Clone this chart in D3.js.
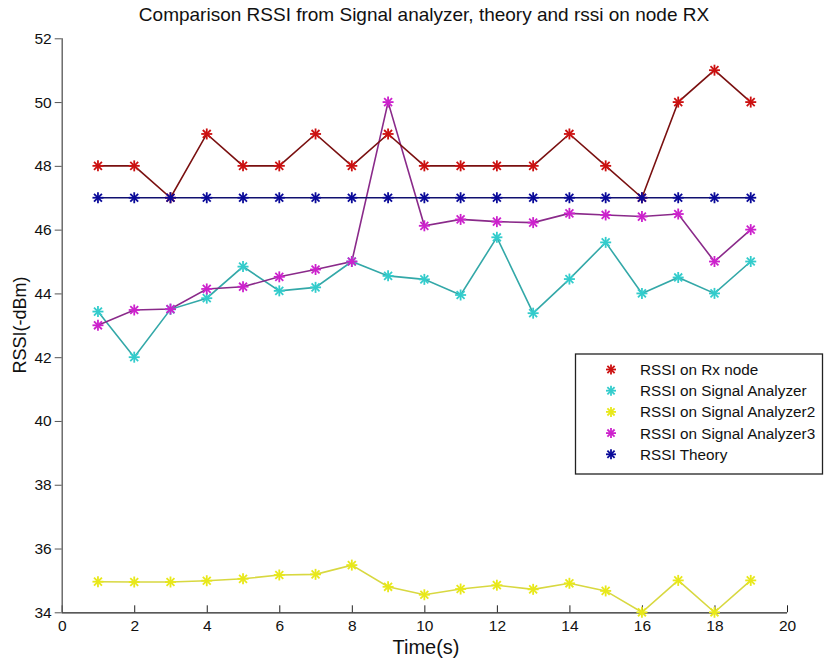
<!DOCTYPE html>
<html><head><meta charset="utf-8">
<script src="https://cdn.jsdelivr.net/npm/d3@7"></script>
<style>body{margin:0;background:#fff;} text{font-family:Arial,"Liberation Sans",sans-serif;}</style>
</head><body>
<svg id="c" width="825" height="659"></svg>
<script>
const times = [1,2,3,4,5,6,7,8,9,10,11,12,13,14,15,16,17,18,19];
const rxNode = [48,48,47,49,48,48,49,48,49,48,48,48,48,49,48,47,50,51,50];
const sigAnalyzer = [43.43,42.0,43.5,43.85,44.84,44.08,44.19,45.0,44.55,44.44,43.95,45.76,43.38,44.45,45.6,44.0,44.5,44.0,45.0];
const sigAnalyzer2 = [34.96,34.95,34.95,34.99,35.05,35.17,35.19,35.48,34.8,34.55,34.73,34.85,34.72,34.91,34.67,34.0,35.0,34.0,35.0];
const sigAnalyzer3 = [43.0,43.48,43.51,44.14,44.21,44.52,44.75,45.0,50.0,46.12,46.32,46.25,46.22,46.51,46.46,46.41,46.49,45.0,46.0];
const theory = [47,47,47,47,47,47,47,47,47,47,47,47,47,47,47,47,47,47,47];
const xTicks = [0,2,4,6,8,10,12,14,16,18,20];
const yTicks = [34,36,38,40,42,44,46,48,50,52];

const series = [
  {name:"RSSI on Rx node", values:rxNode, marker:"#cc1111", line:"#7a1010"},
  {name:"RSSI on Signal Analyzer", values:sigAnalyzer, marker:"#33cccc", line:"#33a8a8"},
  {name:"RSSI on Signal Analyzer2", values:sigAnalyzer2, marker:"#e8e81a", line:"#d8d840"},
  {name:"RSSI on Signal Analyzer3", values:sigAnalyzer3, marker:"#cc22cc", line:"#8a2a8a"},
  {name:"RSSI Theory", values:theory, marker:"#0a0a99", line:"#101070"}
];

const svg = d3.select("#c");
const L=61.7, R=787, T=38.3, B=612.3;
const x = d3.scaleLinear().domain([0,20]).range([L,R]);
const y = d3.scaleLinear().domain([34,52]).range([B,T]);

// axes
const xAxis = d3.axisBottom(x).tickValues(xTicks).tickSize(-7).tickPadding(12).tickFormat(d3.format("d"));
const gx = svg.append("g").attr("transform",`translate(0,${B})`).call(xAxis);
gx.select(".domain").attr("stroke","#222").attr("stroke-width",1.3).attr("d",`M${L},0.5H${R}`);
gx.selectAll(".tick line").attr("stroke","#222");
gx.selectAll(".tick text").attr("font-size",15.5).attr("fill","#111").attr("dy","0.45em");

const yAxis = d3.axisLeft(y).tickValues(yTicks).tickSize(7).tickPadding(3).tickFormat(d3.format("d"));
const gy = svg.append("g").attr("transform",`translate(${L},0)`).call(yAxis);
gy.select(".domain").attr("stroke","#555").attr("stroke-width",1.3).attr("d",`M0.5,${T}V${B}`);
gy.selectAll(".tick line").attr("stroke","#555");
gy.selectAll(".tick text").attr("font-size",15.5).attr("fill","#111");

// titles
svg.append("text").attr("x",424).attr("y",21).attr("text-anchor","middle").attr("font-size",19).attr("fill","#111")
  .text("Comparison RSSI from Signal analyzer, theory and rssi on node RX");
svg.append("text").attr("x",426).attr("y",654).attr("text-anchor","middle").attr("font-size",20).attr("fill","#111").text("Time(s)");
svg.append("text").attr("transform","translate(26,325) rotate(-90)").attr("text-anchor","middle").attr("font-size",18).attr("fill","#111").text("RSSI(-dBm)");

// asterisk marker
function star(g, cx, cy, color, r){
  const s = g.append("g").attr("transform",`translate(${cx},${cy})`).attr("stroke",color).attr("stroke-width",1.8);
  s.append("line").attr("x1",-r).attr("x2",r).attr("y1",0).attr("y2",0);
  s.append("line").attr("x1",0).attr("x2",0).attr("y1",-r).attr("y2",r);
  const d=r*0.72;
  s.append("line").attr("x1",-d).attr("x2",d).attr("y1",-d).attr("y2",d);
  s.append("line").attr("x1",-d).attr("x2",d).attr("y1",d).attr("y2",-d);
}

const line = d3.line().x((d,i)=>x(times[i])).y(d=>y(d));
const order = [1,2,3,0,4];
order.forEach(k=>{
  const s = series[k];
  svg.append("path").attr("d",line(s.values)).attr("fill","none").attr("stroke",s.line).attr("stroke-width",1.6);
});
order.forEach(k=>{
  const s = series[k];
  const g = svg.append("g");
  s.values.forEach((v,i)=>star(g, x(times[i]), y(v), s.marker, 5.5));
});

// legend
const lg = svg.append("g");
lg.append("rect").attr("x",575.5).attr("y",354).attr("width",247).attr("height",120).attr("fill","#fff").attr("stroke","#222").attr("stroke-width",1.3);
series.forEach((s,i)=>{
  const yy = 369.5 + i*21.2;
  star(lg, 611, yy, s.marker, 5);
  lg.append("text").attr("x",640).attr("y",yy).attr("dy","0.36em").attr("font-size",15.3).attr("fill","#111").text(s.name);
});
</script>
</body></html>
